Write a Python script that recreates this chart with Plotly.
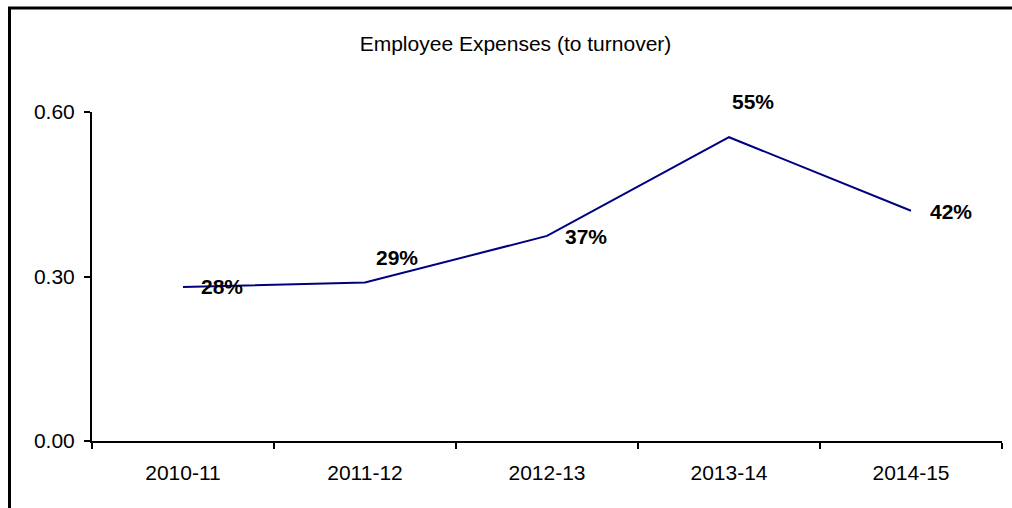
import plotly.graph_objects as go

# ---- data ----
categories = ["2010-11", "2011-12", "2012-13", "2013-14", "2014-15"]
values = [0.281, 0.289, 0.374, 0.554, 0.42]
y_ticks = [0.0, 0.30, 0.60]
title_text = "Employee Expenses (to turnover)"

# label placement offsets in pixels (style only)
label_xshift = [39, 32, 39, 24, 40]
label_yshift = [0, 25, -1, 36, -1]

FONT = "Arial, Liberation Sans, sans-serif"
W, H = 1012, 508
L, R, T, B = 92, 10, 112, 67

fig = go.Figure()
fig.add_trace(go.Scatter(
    x=categories, y=values, mode="lines",
    line=dict(color="#000080", width=2),
    hoverinfo="skip", showlegend=False,
))

for c, v, dx, dy in zip(categories, values, label_xshift, label_yshift):
    fig.add_annotation(
        x=c, y=v, text=f"<b>{v:.0%}</b>", showarrow=False,
        xshift=dx, yshift=dy,
        font=dict(family=FONT, size=21, color="black"),
    )

pw = W - L - R
ph = H - T - B
def px_x(px):
    return (px - L) / pw
def px_y(py):
    return (H - B - py) / ph

# frame (left and top border lines)
fig.add_shape(type="line", xref="paper", yref="paper",
              x0=px_x(9.5), x1=px_x(9.5), y0=px_y(8), y1=px_y(520),
              line=dict(color="black", width=3))
fig.add_shape(type="line", xref="paper", yref="paper",
              x0=px_x(8), x1=px_x(1030), y0=px_y(8), y1=px_y(8),
              line=dict(color="black", width=3))

fig.update_layout(
    width=W, height=H,
    margin=dict(l=L, r=R, t=T, b=B),
    paper_bgcolor="white", plot_bgcolor="white",
    font=dict(family=FONT, size=21, color="black"),
    title=dict(text=title_text, x=515.5 / W, y=1 - 44 / H,
               xanchor="center", yanchor="middle", xref="container",
               font=dict(family=FONT, size=21, color="black")),
    xaxis=dict(
        type="category", range=[-0.5, 4.5],
        showline=True, linecolor="black", linewidth=2,
        ticks="outside", ticklen=6, tickwidth=2, tickcolor="black",
        tickson="boundaries", showgrid=False, zeroline=False,
        tickfont=dict(family=FONT, size=21, color="black"),
        ticklabelstandoff=12,
    ),
    yaxis=dict(
        range=[0, 0.6], tickvals=y_ticks, tickformat=".2f",
        showline=True, linecolor="black", linewidth=2,
        ticks="outside", ticklen=6, tickwidth=2, tickcolor="black",
        showgrid=False, zeroline=False,
        tickfont=dict(family=FONT, size=21, color="black"),
        ticklabelstandoff=5,
    ),
)

fig.write_html("out.html")
